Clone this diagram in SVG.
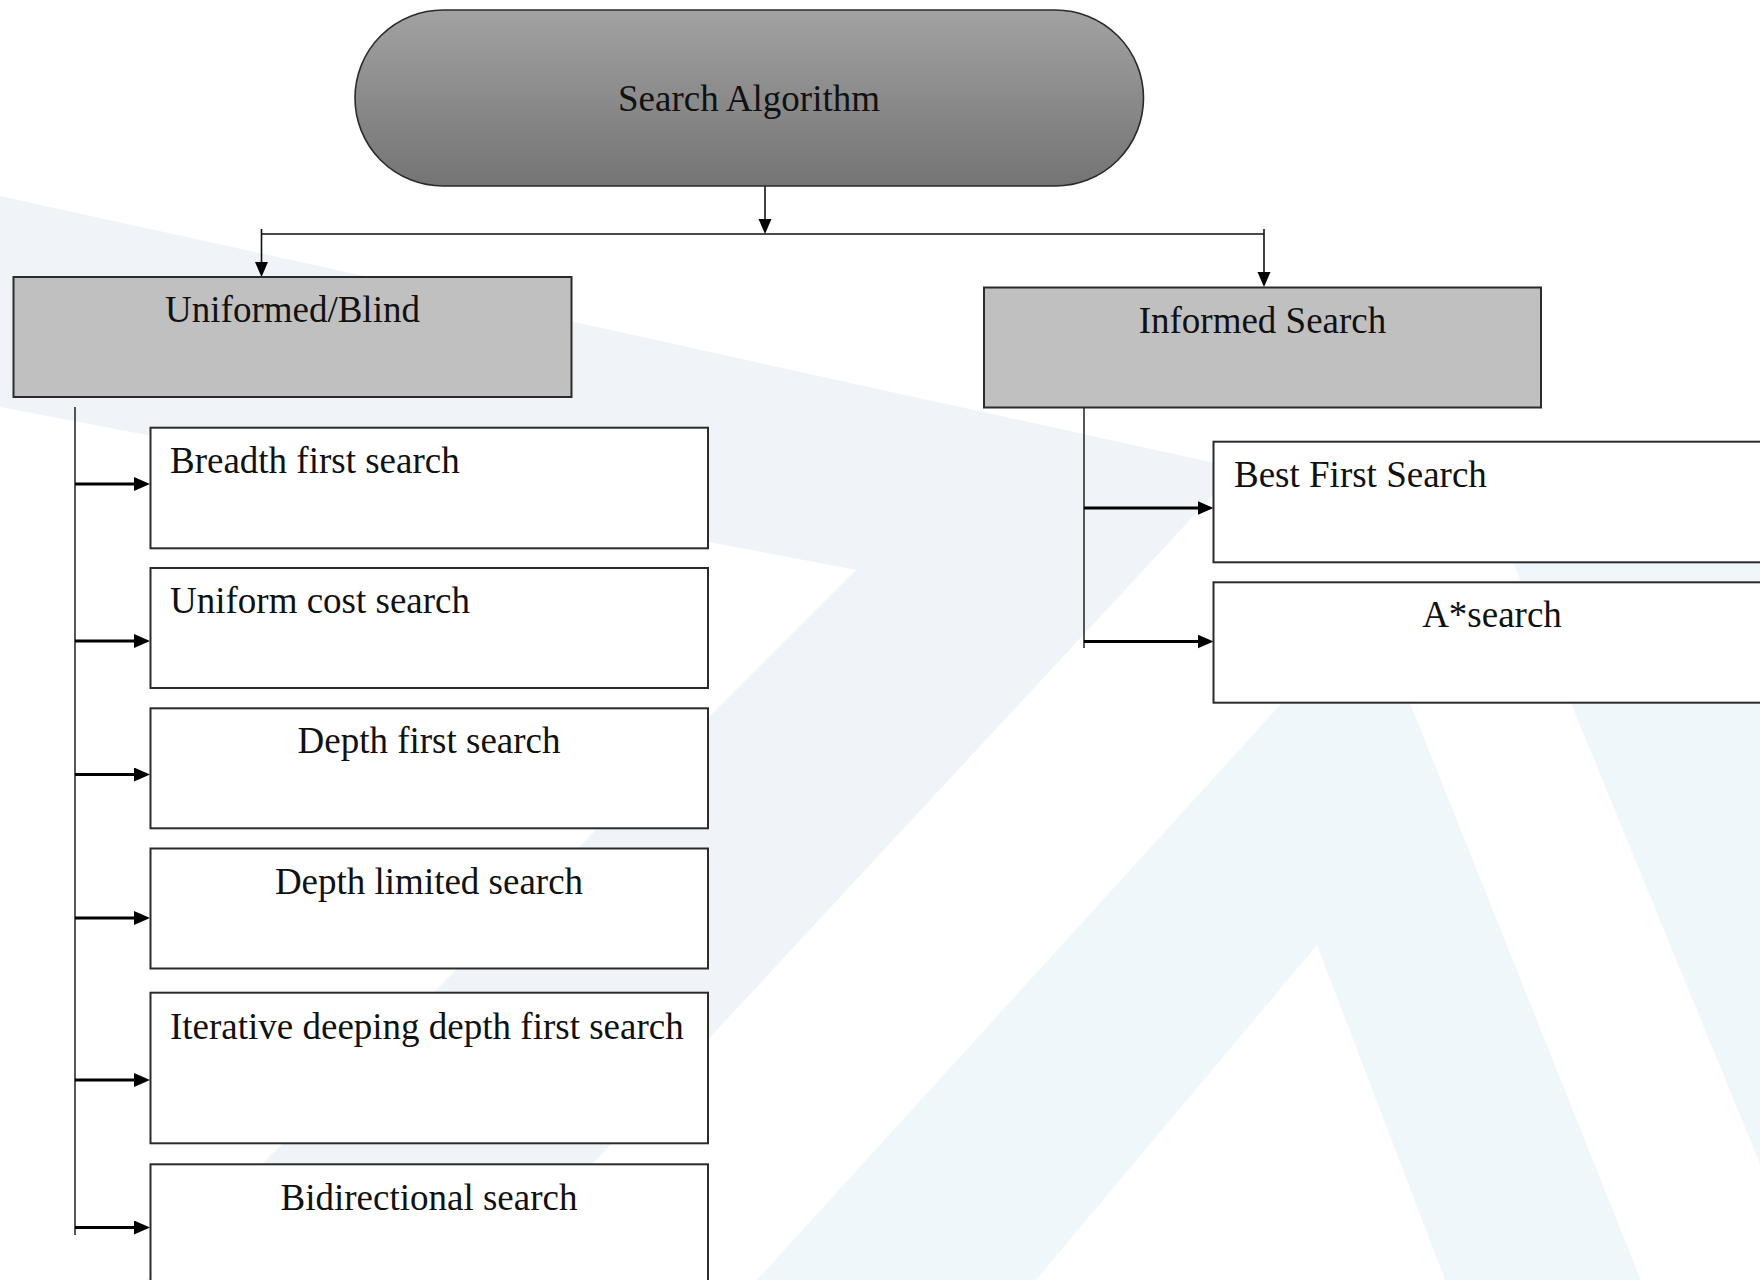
<svg xmlns="http://www.w3.org/2000/svg" width="1760" height="1280" viewBox="0 0 1760 1280">
<style>
  .lbl { font-family: "Liberation Serif", "Times New Roman", serif; font-size: 37px; fill: #111; }
  .mid { text-anchor: middle; }
  .box { fill: #ffffff; stroke: #2b2b2b; stroke-width: 2; }
  .cat { fill: #c0c0c0; stroke: #2b2b2b; stroke-width: 2; }
  .trunk { stroke: #111; stroke-width: 1.4; fill: none; }
  .top { stroke: #111; stroke-width: 1.6; fill: none; }
  .arr { stroke: #000; stroke-width: 2.8; fill: none; }
  .wm1 { fill: #f0f4f8; }
  .wm2 { fill: #f0f7fb; }
</style>
<defs>
  <linearGradient id="gRoot" x1="0" y1="0" x2="0" y2="1">
    <stop offset="0" stop-color="#a2a2a2"/>
    <stop offset="1" stop-color="#747474"/>
  </linearGradient>
  <marker id="ah" markerUnits="userSpaceOnUse" markerWidth="16" markerHeight="14" refX="2" refY="7" orient="auto">
    <path d="M0,0 L16,7 L0,14 z" fill="#000"/>
  </marker>
  <marker id="ahs" markerUnits="userSpaceOnUse" markerWidth="15" markerHeight="14" refX="2" refY="7" orient="auto">
    <path d="M0,0.5 L15,7 L0,13.5 z" fill="#000"/>
  </marker>
</defs>

<rect x="0" y="0" width="1760" height="1280" fill="#ffffff"/>

<g id="watermark">
  <polygon class="wm1" points="0,196 1238,468 485,1280 146,1280 856,570 0,407"/>
  <polygon class="wm2" points="1371,605 1641,1280 1445,1280 1317,945 1036,1280 757,1280"/>
  <polygon class="wm2" points="1467,450 1760,450 1760,1164"/>
</g>

<g id="connectors">
  <line class="top" x1="765" y1="186" x2="765" y2="221" marker-end="url(#ahs)"/>
  <line class="top" x1="261.5" y1="234" x2="1264" y2="234"/>
  <line class="top" x1="261.5" y1="229" x2="261.5" y2="264" marker-end="url(#ahs)"/>
  <line class="top" x1="1264" y1="229" x2="1264" y2="274" marker-end="url(#ahs)"/>

  <line class="trunk" x1="75" y1="407" x2="75" y2="1235"/>
  <line class="arr" x1="75" y1="484" x2="136" y2="484" marker-end="url(#ah)"/>
  <line class="arr" x1="75" y1="641" x2="136" y2="641" marker-end="url(#ah)"/>
  <line class="arr" x1="75" y1="774.5" x2="136" y2="774.5" marker-end="url(#ah)"/>
  <line class="arr" x1="75" y1="918" x2="136" y2="918" marker-end="url(#ah)"/>
  <line class="arr" x1="75" y1="1080" x2="136" y2="1080" marker-end="url(#ah)"/>
  <line class="arr" x1="75" y1="1227.5" x2="136" y2="1227.5" marker-end="url(#ah)"/>

  <line class="trunk" x1="1084" y1="407.5" x2="1084" y2="648"/>
  <line class="arr" x1="1084" y1="508" x2="1199.5" y2="508" marker-end="url(#ah)"/>
  <line class="arr" x1="1084" y1="641.5" x2="1199.5" y2="641.5" marker-end="url(#ah)"/>
</g>

<g id="root">
  <rect x="355" y="10" width="788.5" height="176" rx="88" ry="88" fill="url(#gRoot)" stroke="#2b2b2b" stroke-width="1.6"/>
  <text class="lbl mid" x="749" y="111">Search Algorithm</text>
</g>

<g id="uninformed">
  <rect class="cat" x="13.5" y="277" width="558" height="120"/>
  <text class="lbl mid" x="292.5" y="322">Uniformed/Blind</text>
</g>

<g id="informed">
  <rect class="cat" x="984" y="287.5" width="557" height="120"/>
  <text class="lbl mid" x="1262.5" y="332.5">Informed Search</text>
</g>

<g id="bfs">
  <rect class="box" x="150.5" y="427.7" width="557.5" height="120.6"/>
  <text class="lbl" x="170" y="472.5">Breadth first search</text>
</g>

<g id="ucs">
  <rect class="box" x="150.5" y="568" width="557.5" height="120"/>
  <text class="lbl" x="170" y="613">Uniform cost search</text>
</g>

<g id="dfs">
  <rect class="box" x="150.5" y="708.3" width="557.5" height="120"/>
  <text class="lbl mid" x="429" y="753">Depth first search</text>
</g>

<g id="dls">
  <rect class="box" x="150.5" y="848.5" width="557.5" height="120"/>
  <text class="lbl mid" x="429" y="893.5">Depth limited search</text>
</g>

<g id="iddfs">
  <rect class="box" x="150.5" y="992.7" width="557.5" height="150.6"/>
  <text class="lbl" x="170" y="1039.3">Iterative deeping depth first search</text>
</g>

<g id="bidir">
  <rect class="box" x="150.5" y="1164.3" width="557.5" height="140"/>
  <text class="lbl mid" x="429" y="1210">Bidirectional search</text>
</g>

<g id="bestfirst">
  <rect class="box" x="1213.5" y="441.7" width="557.5" height="120.6"/>
  <text class="lbl" x="1234" y="486.7">Best First Search</text>
</g>

<g id="astar">
  <rect class="box" x="1213.5" y="582.3" width="557.5" height="120.4"/>
  <text class="lbl mid" x="1492" y="627.3">A*search</text>
</g>
</svg>
